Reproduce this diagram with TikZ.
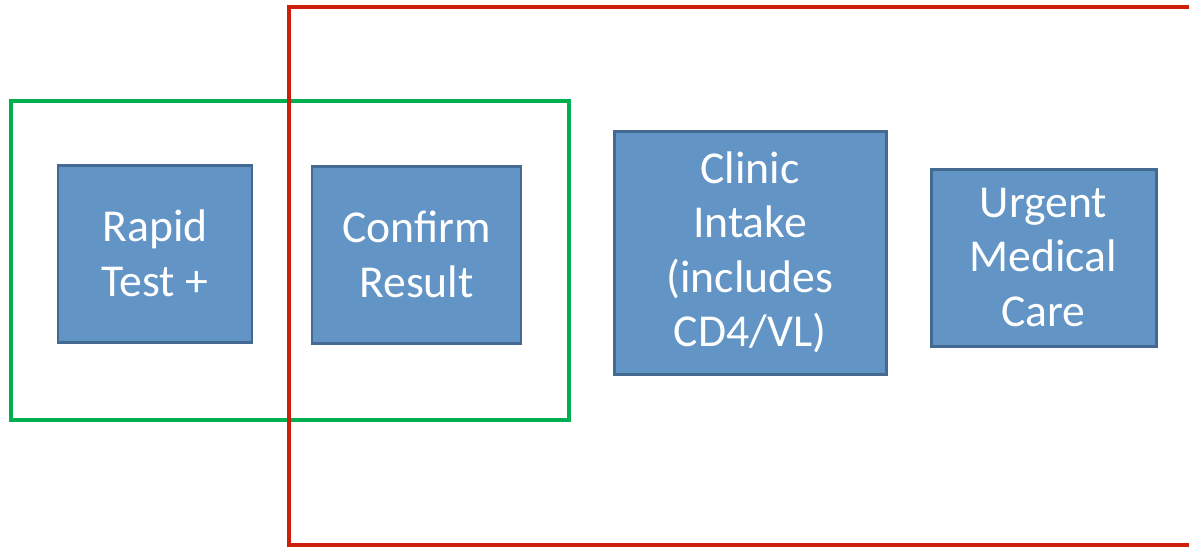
\documentclass[tikz,border=0pt]{standalone}
\usepackage{fontspec}
\setmainfont{Carlito}
\definecolor{stepfill}{RGB}{98,148,198}
\definecolor{stepline}{RGB}{68,106,148}
\definecolor{grpgreen}{RGB}{0,176,80}
\definecolor{grpred}{RGB}{204,32,10}

\begin{document}
\begin{tikzpicture}[stepbox/.style={draw=stepline,fill=stepfill,line width=1.7pt,rectangle,align=center,text=white,font=\fontsize{26}{31}\selectfont,inner sep=0pt}]
\useasboundingbox (0,0) rectangle (23.78,-10.96);
\clip (0,0) rectangle (23.78,-10.96);
\node[stepbox, minimum width=3.88cm, minimum height=3.54cm](rapid)  at (3.10,-5.07){Rapid\\Test +};
\node[stepbox, minimum width=4.18cm, minimum height=3.54cm](confirm)  at (8.33,-5.09){Confirm\\Result};
\node[stepbox, minimum width=5.44cm, minimum height=4.86cm](intake)  at (15.0,-5.05){Clinic\\Intake\\(includes\\CD4/VL)};
\node[stepbox, minimum width=4.5cm, minimum height=3.54cm](urgent)  at (20.87,-5.15){Urgent\\Medical\\Care};
	\draw[grpgreen,line width=2.3pt] (0.22,-2.02) rectangle (11.38,-8.40);
	\draw[grpred,line width=2.3pt] (5.78,-0.14) rectangle (24.2,-10.90);
\end{tikzpicture}
\end{document}
